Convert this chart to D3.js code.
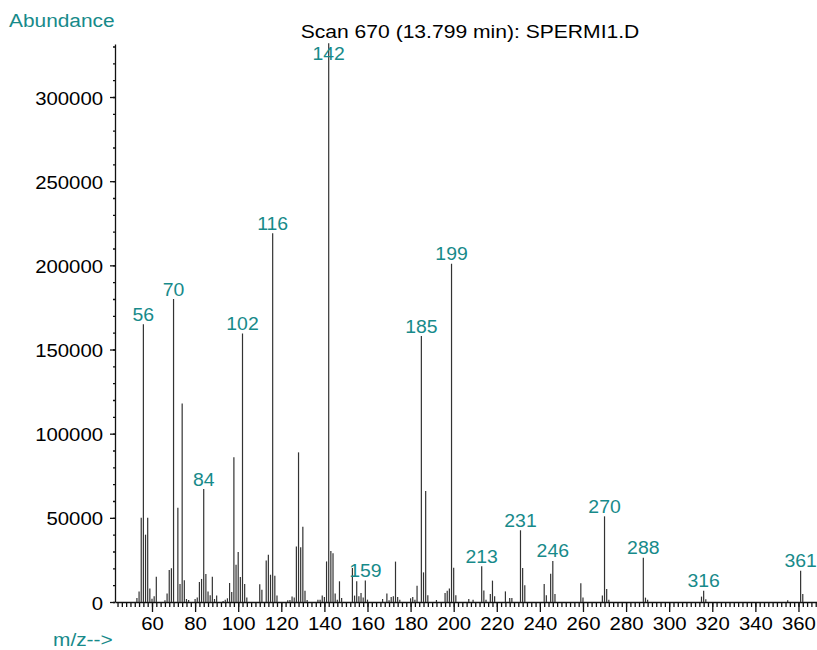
<!DOCTYPE html>
<html>
<head>
<meta charset="utf-8">
<script src="https://cdn.jsdelivr.net/npm/d3@7"></script>
<style>
body { margin: 0; background: #fff; }
text { font-family: "Liberation Sans", Arial, sans-serif; }
</style>
</head>
<body>
<svg></svg>
<script>
let svgWidth = 817;
let svgHeight = 650;
let teal = "#178a8a";

let title = "Scan 670 (13.799 min): SPERMI1.D";

// m/z of every peak and its abundance
let mz = [53, 54, 55, 56, 57, 58, 59, 60, 61, 62, 66, 67, 68, 69, 70, 72, 73, 74, 75, 76, 77,
          80, 81, 82, 83, 84, 85, 86, 87, 88, 89, 90, 93, 94, 95, 96, 97, 98, 99, 100, 101, 102, 103, 104,
          110, 111, 113, 114, 115, 116, 117, 118, 123, 124, 125, 126, 127, 128, 129, 130, 131, 132,
          137, 138, 139, 140, 141, 142, 143, 144, 145, 146, 147, 148,
          153, 154, 155, 156, 157, 158, 159, 160, 167, 169, 170, 171, 172, 173, 174, 175,
          180, 181, 182, 183, 185, 186, 187, 188, 192, 196, 197, 198, 199, 200, 201,
          207, 209, 213, 214, 215, 217, 218, 219, 224, 226, 227, 231, 232, 233,
          242, 243, 245, 246, 247, 259, 260, 269, 270, 271, 272, 288, 289, 290,
          315, 316, 317, 355, 361, 362];
let abundance = [2400, 6300, 50000, 165000, 40000, 50000, 8000, 2000, 3400, 15000, 1000, 5000, 19000, 20000, 180000, 56000, 10700, 118000, 12900, 1800, 1200,
          1800, 2600, 11900, 13700, 67100, 16600, 6300, 4000, 15000, 1800, 3800, 600, 1400, 2200, 11300, 5900, 86000, 22200, 29700, 14900, 159500, 10700, 2600,
          10500, 7300, 24700, 28100, 16200, 219000, 15600, 3800, 1000, 1200, 3200, 2600, 33000, 88900, 32500, 44700, 6700, 1200,
          1400, 1400, 3800, 3000, 24100, 332000, 30300, 29000, 5000, 1400, 12300, 2400,
          20200, 3800, 12300, 3400, 5300, 2600, 12700, 1400, 1800, 5000, 1000, 3000, 3400, 24000, 3000, 1400,
          2200, 3000, 1400, 9700, 158000, 17600, 65900, 4000, 1200, 5400, 6700, 8000, 201000, 20400, 4000,
          1800, 1400, 21200, 6900, 1400, 4800, 12700, 3400, 6300, 2400, 2400, 42600, 20200, 9900,
          10700, 4000, 16800, 24400, 4800, 11100, 2600, 3800, 50900, 7700, 1400, 26300, 2600, 1400,
          3200, 6700, 1600, 1000, 18600, 4700];

let labelled = [56, 70, 84, 102, 116, 142, 159, 185, 199, 213, 231, 246, 270, 288, 316, 361];

let xTicks = [60, 80, 100, 120, 140, 160, 180, 200, 220, 240, 260, 280, 300, 320, 340, 360];
let yTicks = [0, 50000, 100000, 150000, 200000, 250000, 300000];

let peaks = mz.map(function(m, i) { return {mz: m, ab: abundance[i]}; });

let svg = d3.select("svg").attr("width", svgWidth).attr("height", svgHeight);

let xScale = d3.scaleLinear().domain([42.83, 368.6]).range([115, 817]);
let yScale = d3.scaleLinear().domain([0, 331500]).range([602, 44]);

// the reference text is drawn wider than plain Arial, so stretch it sideways
function wideText(sel, x, y, sx) {
    sel.attr("transform", "translate(" + x + "," + y + ") scale(" + sx + ",1)");
}

// x axis: minor ticks every 2, major every 20
let xMinor = d3.axisBottom(xScale).tickValues(d3.range(44, 369, 2)).tickSize(5).tickFormat("");
svg.append("g").attr("transform", "translate(0,602)").call(xMinor)
    .call(function(g) { g.select(".domain").remove(); });

let xAxis = d3.axisBottom(xScale).tickValues(xTicks).tickSizeInner(10).tickSizeOuter(0).tickPadding(5)
    .tickFormat(d3.format("d"));
let gx = svg.append("g").attr("transform", "translate(0,602)").call(xAxis);

// y axis: minor ticks every 10000, major every 50000
let yMinor = d3.axisLeft(yScale).tickValues(d3.range(0, 331000, 10000)).tickSize(2).tickFormat("");
svg.append("g").attr("transform", "translate(115,0)").call(yMinor)
    .call(function(g) { g.select(".domain").remove(); });

let yAxis = d3.axisLeft(yScale).tickValues(yTicks).tickSizeInner(5).tickSizeOuter(0).tickPadding(7)
    .tickFormat(d3.format("d"));
let gy = svg.append("g").attr("transform", "translate(115,0)").call(yAxis);

svg.selectAll(".tick line, .domain").attr("stroke", "#111").attr("stroke-width", 1.3);
gx.selectAll("text").attr("font-size", 18.5).attr("fill", "#000").attr("font-family", null)
    .attr("transform", "scale(1.1,1)");
gy.selectAll("text").attr("font-size", 18.5).attr("fill", "#000").attr("font-family", null)
    .attr("x", -12 / 1.1).attr("dy", "0.38em")
    .attr("transform", "scale(1.1,1)");

// spectrum sticks
svg.append("g").selectAll("line").data(peaks).join("line")
    .attr("x1", function(d) { return xScale(d.mz); })
    .attr("x2", function(d) { return xScale(d.mz); })
    .attr("y1", yScale(0))
    .attr("y2", function(d) { return yScale(d.ab); })
    .attr("stroke", "#333")
    .attr("stroke-width", 1.2);

// peak labels
let labelData = peaks.filter(function(d) { return labelled.indexOf(d.mz) >= 0; });
svg.append("g").selectAll("text").data(labelData).join("text")
    .attr("font-size", 18.5)
    .attr("fill", teal)
    .attr("text-anchor", "middle")
    .each(function(d) {
        wideText(d3.select(this), xScale(d.mz), Math.max(yScale(d.ab) - 3.5, 60), 1.05);
    })
    .text(function(d) { return d.mz; });

svg.append("text").attr("font-size", 18).attr("fill", teal)
    .call(wideText, 9, 27, 1.16).text("Abundance");

svg.append("text").attr("font-size", 18).attr("fill", teal)
    .call(wideText, 53, 646, 1.16).text("m/z-->");

svg.append("text").attr("font-size", 18.5).attr("fill", "#000").attr("text-anchor", "middle")
    .call(wideText, 470, 38, 1.14).text(title);
</script>
</body>
</html>
